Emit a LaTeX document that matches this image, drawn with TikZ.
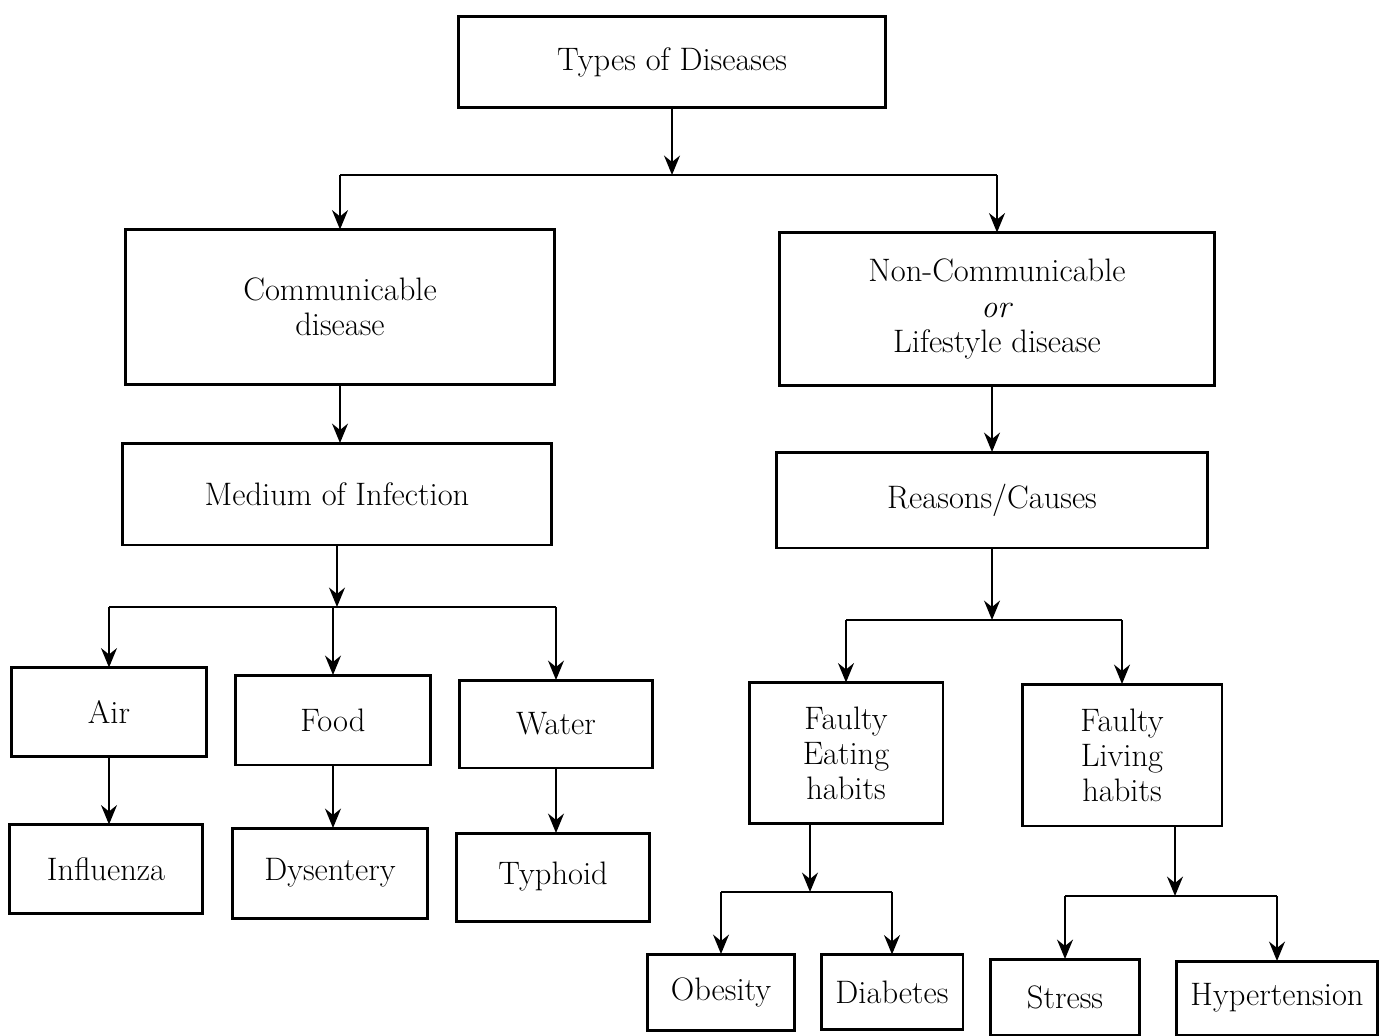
\documentclass[tikz,border=0pt]{standalone}
\usetikzlibrary{arrows.meta}
\begin{document}
\begin{tikzpicture}[x=0.02cm,y=-0.02cm,
  bx/.style={draw,line width=1.7pt,inner sep=0pt,outer sep=0pt,align=center,
     font=\fontsize{18.5}{20}\selectfont},
  conn/.style={line width=1.5pt},
  arr/.style={line width=1.5pt,-{Stealth[length=11pt,width=9pt]}}]
\useasboundingbox (0,0) rectangle (1389,1035);
% boxes
\node[bx,minimum width=8.54cm,minimum height=1.82cm] (top) at (672,62) {Types of Diseases};
\node[bx,minimum width=8.58cm,minimum height=3.10cm] (comm) at (340,307) {Communicable\\disease};
\node[bx,minimum width=8.72cm,minimum height=3.06cm] (noncomm) at (997,309) {Non-Communicable\\\textit{or}\\Lifestyle disease};
\node[bx,minimum width=8.58cm,minimum height=2.04cm] (medium) at (337,494) {Medium of Infection};
\node[bx,minimum width=8.64cm,minimum height=1.92cm] (reasons) at (992,500) {Reasons/Causes};
\node[bx,minimum width=3.92cm,minimum height=1.78cm] (air) at (109,712) {Air};
\node[bx,minimum width=3.90cm,minimum height=1.80cm] (food) at (333,720) {Food};
\node[bx,minimum width=3.88cm,minimum height=1.76cm] (water) at (556,724) {Water};
\node[bx,minimum width=3.88cm,minimum height=1.78cm] (influenza) at (106,869) {Influenza};
\node[bx,minimum width=3.92cm,minimum height=1.80cm] (dysentery) at (330,873) {Dysentery};
\node[bx,minimum width=3.88cm,minimum height=1.76cm] (typhoid) at (553,877) {Typhoid};
\node[bx,minimum width=3.88cm,minimum height=2.82cm] (eating) at (846,753) {Faulty\\Eating\\habits};
\node[bx,minimum width=4.00cm,minimum height=2.84cm] (living) at (1122,755) {Faulty\\Living\\habits};
\node[bx,minimum width=2.94cm,minimum height=1.52cm] (obesity) at (721,992) {Obesity};
\node[bx,minimum width=2.84cm,minimum height=1.50cm] (diabetes) at (892,992) {Diabetes};
\node[bx,minimum width=2.98cm,minimum height=1.52cm] (stress) at (1065,997) {Stress};
\node[bx,minimum width=4.02cm,minimum height=1.48cm] (hyper) at (1277,998) {Hypertension};
% junctions
\coordinate (j1) at (672,175);
\coordinate (j1l) at (340,175);
\coordinate (j1r) at (997,175);
\draw[arr] (top) -- (j1);
\draw[conn] (j1l) -- (j1r);
\draw[arr] (j1l) -- (comm);
\draw[arr] (j1r) -- (noncomm);
\draw[arr] (comm) -- (comm.south |- medium.north);
\draw[arr] (noncomm.south -| reasons) -- (reasons);
% medium
\coordinate (j2) at (337,607);
\coordinate (j2l) at (109,607);
\coordinate (j2r) at (556,607);
\draw[arr] (medium) -- (j2);
\draw[conn] (j2l) -- (j2r);
\draw[arr] (j2l) -- (air);
\draw[arr] (j2 -| food) -- (food);
\draw[arr] (j2r) -- (water);
\draw[arr] (air.south) -- (air.south |- influenza.north);
\draw[arr] (food.south) -- (food.south |- dysentery.north);
\draw[arr] (water.south) -- (water.south |- typhoid.north);
% reasons
\coordinate (j3) at (992,620);
\coordinate (j3l) at (846,620);
\coordinate (j3r) at (1122,620);
\draw[arr] (reasons) -- (j3);
\draw[conn] (j3l) -- (j3r);
\draw[arr] (j3l) -- (eating);
\draw[arr] (j3r) -- (living);
% eating
\coordinate (e1) at (810,824);
\coordinate (j4) at (810,892);
\coordinate (j4l) at (721,892);
\coordinate (j4r) at (892,892);
\draw[arr] (e1) -- (j4);
\draw[conn] (j4l) -- (j4r);
\draw[arr] (j4l) -- (obesity);
\draw[arr] (j4r) -- (diabetes);
% living
\coordinate (l1) at (1175,826);
\coordinate (j5) at (1175,896);
\coordinate (j5l) at (1065,896);
\coordinate (j5r) at (1277,896);
\draw[arr] (l1) -- (j5);
\draw[conn] (j5l) -- (j5r);
\draw[arr] (j5l) -- (stress);
\draw[arr] (j5r) -- (hyper);
\end{tikzpicture}
\end{document}
